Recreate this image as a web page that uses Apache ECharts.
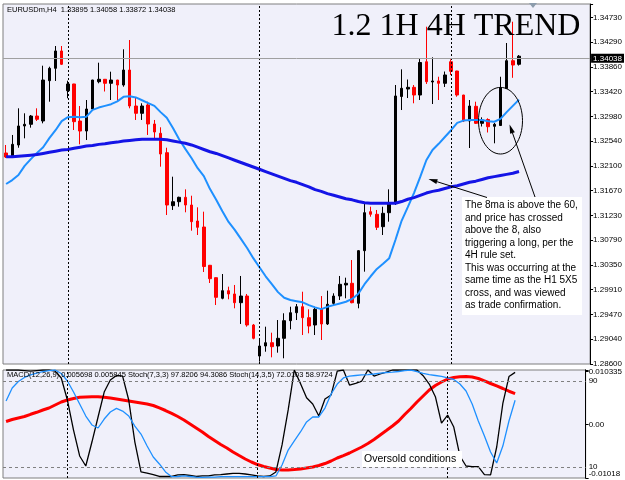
<!DOCTYPE html>
<html>
<head>
<meta charset="utf-8">
<title>1.2 1H 4H TREND</title>
<script src="https://cdn.jsdelivr.net/npm/echarts@6.0.0/dist/echarts.min.js"></script>
<style>
  html, body { margin: 0; padding: 0; background: #fff; }
  #chart { width: 625px; height: 480px; }
</style>
</head>
<body>
<div id="chart"></div>
<script>
// EURUSDm H4 bars (oldest first)
var opens = [1.32328, 1.32262, 1.32469, 1.32805, 1.32835, 1.32981, 1.32893, 1.33605, 1.33824, 1.34130,
    1.33428, 1.33547, 1.32893, 1.32716, 1.33105, 1.33587, 1.33630, 1.33559, 1.33617, 1.33529,
    1.33794, 1.33158, 1.33029, 1.33176, 1.32840, 1.32676, 1.32333, 1.31397, 1.31467, 1.31545,
    1.31409, 1.31126, 1.31020, 1.30344, 1.30125, 1.29761, 1.29895, 1.29837, 1.29683, 1.29801,
    1.29289, 1.28741, 1.28918, 1.28976, 1.28918, 1.29054, 1.29365, 1.29506, 1.29612, 1.29418,
    1.29289, 1.29566, 1.29307, 1.29672, 1.29801, 1.29996, 1.30026, 1.29672, 1.30602, 1.31291,
    1.31245, 1.31026, 1.31273, 1.31439, 1.33326, 1.33458, 1.33488, 1.33352, 1.33940, 1.33582,
    1.33600, 1.33559, 1.33940, 1.33776, 1.33352, 1.32893, 1.33153, 1.32852, 1.32919, 1.32799,
    1.32813, 1.33467, 1.33958, 1.33895];
var closes = [1.32257, 1.32481, 1.32805, 1.32835, 1.32981, 1.32923, 1.33617, 1.33824, 1.34130, 1.33895,
    1.33547, 1.32881, 1.32716, 1.33105, 1.33617, 1.33630, 1.33559, 1.33617, 1.33529, 1.33794,
    1.33158, 1.33029, 1.33158, 1.32840, 1.32699, 1.32310, 1.31409, 1.31467, 1.31545, 1.31409,
    1.31114, 1.31015, 1.30322, 1.30107, 1.29778, 1.29895, 1.29837, 1.29683, 1.29801, 1.29289,
    1.29054, 1.28918, 1.28976, 1.28906, 1.29054, 1.29365, 1.29506, 1.29612, 1.29418, 1.29271,
    1.29566, 1.29307, 1.29655, 1.29801, 1.30008, 1.30026, 1.29683, 1.30602, 1.31273, 1.31245,
    1.31015, 1.31262, 1.31450, 1.33335, 1.33471, 1.33488, 1.33352, 1.33926, 1.33587, 1.33600,
    1.33559, 1.33706, 1.33771, 1.33352, 1.32893, 1.33158, 1.32852, 1.32911, 1.32792, 1.32835,
    1.33476, 1.33958, 1.33882, 1.34038];
var lows = [1.32239, 1.32252, 1.32421, 1.32587, 1.32775, 1.32893, 1.32852, 1.33234, 1.33600, 1.33882,
    1.33294, 1.32734, 1.32481, 1.32557, 1.33087, 1.33559, 1.33414, 1.33264, 1.33234, 1.33499,
    1.33117, 1.32911, 1.32911, 1.32646, 1.32587, 1.32086, 1.31232, 1.31321, 1.31379, 1.31280,
    1.30955, 1.30879, 1.30225, 1.30031, 1.29642, 1.29743, 1.29743, 1.29584, 1.29307, 1.29259,
    1.29036, 1.28641, 1.28817, 1.28718, 1.28800, 1.28701, 1.29213, 1.29377, 1.29112, 1.29142,
    1.29112, 1.29024, 1.29289, 1.29642, 1.29731, 1.29761, 1.29672, 1.29584, 1.30231, 1.31202,
    1.30967, 1.30879, 1.31114, 1.31409, 1.33087, 1.33299, 1.33206, 1.33264, 1.33547, 1.33193,
    1.33264, 1.33494, 1.33706, 1.33322, 1.32875, 1.32416, 1.32840, 1.32796, 1.32690, 1.32499,
    1.32805, 1.33458, 1.33656, 1.33872];
var highs = [1.32469, 1.32646, 1.33117, 1.33029, 1.32999, 1.33117, 1.33870, 1.33852, 1.34218, 1.34218,
    1.33605, 1.33550, 1.33158, 1.33264, 1.33620, 1.33923, 1.33635, 1.33764, 1.33620, 1.34160,
    1.34324, 1.33312, 1.33206, 1.33234, 1.32911, 1.32782, 1.32421, 1.31909, 1.31556, 1.31686,
    1.31573, 1.31368, 1.31291, 1.30350, 1.30130, 1.30190, 1.29966, 1.29996, 1.30155, 1.29837,
    1.29307, 1.29054, 1.29259, 1.29153, 1.29377, 1.29496, 1.29612, 1.29660, 1.29877, 1.29566,
    1.29612, 1.29801, 1.29895, 1.29849, 1.30155, 1.30125, 1.30437, 1.30614, 1.31439, 1.31379,
    1.31321, 1.31379, 1.31686, 1.33529, 1.33806, 1.33626, 1.33529, 1.34001, 1.34559, 1.34018,
    1.33675, 1.33767, 1.33983, 1.33780, 1.33355, 1.33264, 1.33234, 1.32958, 1.32941, 1.32858,
    1.33675, 1.34271, 1.34647, 1.34058];

// 8 period MA (light blue) and 60 period MA (dark blue)
var fastMa = [1.3178, 1.3185, 1.3194, 1.3210, 1.3222, 1.3233, 1.3243, 1.3259, 1.3273, 1.3289,
    1.3296, 1.3297, 1.3296, 1.3297, 1.3309, 1.3313, 1.3316, 1.3319, 1.3324, 1.3332,
    1.3333, 1.3331, 1.3326, 1.3321, 1.3316, 1.3305, 1.3295, 1.3277, 1.3257, 1.3240,
    1.3224, 1.3206, 1.3192, 1.3169, 1.3150, 1.3130, 1.3111, 1.3097, 1.3081, 1.3065,
    1.3047, 1.3031, 1.3015, 1.3001, 1.2987, 1.2977, 1.2973, 1.2971, 1.2969, 1.2964,
    1.2960, 1.2957, 1.2961, 1.2964, 1.2967, 1.2970, 1.2975, 1.2984, 1.3001, 1.3015,
    1.3028, 1.3037, 1.3047, 1.3079, 1.3113, 1.3137, 1.3162, 1.3190, 1.3220, 1.3238,
    1.3249, 1.3261, 1.3273, 1.3286, 1.3290, 1.3291, 1.3291, 1.3291, 1.3289, 1.3288,
    1.3293, 1.3305, 1.3316, 1.3327];
var slowMa = [1.3226, 1.3226, 1.3227, 1.3228, 1.3229, 1.3230, 1.3232, 1.3234, 1.3236, 1.3238,
    1.3239, 1.3241, 1.3243, 1.3245, 1.3246, 1.3248, 1.3249, 1.3251, 1.3252, 1.3254,
    1.3255, 1.3256, 1.3257, 1.3257, 1.3257, 1.3257, 1.3256, 1.3254, 1.3252, 1.3250,
    1.3247, 1.3243, 1.3239, 1.3235, 1.3232, 1.3228, 1.3224, 1.3220, 1.3216, 1.3212,
    1.3208, 1.3204, 1.3200, 1.3196, 1.3192, 1.3188, 1.3184, 1.3181, 1.3177, 1.3173,
    1.3168, 1.3165, 1.3161, 1.3158, 1.3155, 1.3152, 1.3150, 1.3147, 1.3145, 1.3144,
    1.3144, 1.3144, 1.3144, 1.3144, 1.3147, 1.3151, 1.3154, 1.3158, 1.3162, 1.3165,
    1.3167, 1.3170, 1.3173, 1.3175, 1.3178, 1.3181, 1.3183, 1.3186, 1.3189, 1.3191,
    1.3193, 1.3195, 1.3197, 1.3200];

// indicator window
var macdLine = [0.00055, 0.00093, 0.00122, 0.00150, 0.00192, 0.00230, 0.00274, 0.00312, 0.00369, 0.00426,
    0.00464, 0.00492, 0.00515, 0.00521, 0.00526, 0.00526, 0.00515, 0.00502, 0.00483, 0.00464,
    0.00445, 0.00426, 0.00407, 0.00388, 0.00359, 0.00312, 0.00264, 0.00211, 0.00150, 0.00084,
    0.00008, -0.00068, -0.00144, -0.00230, -0.00306, -0.00382, -0.00448, -0.00524, -0.00591, -0.00657,
    -0.00714, -0.00762, -0.00800, -0.00828, -0.00857, -0.00866, -0.00866, -0.00857, -0.00847, -0.00828,
    -0.00809, -0.00781, -0.00743, -0.00695, -0.00638, -0.00591, -0.00543, -0.00486, -0.00429, -0.00363,
    -0.00287, -0.00201, -0.00116, -0.00030, 0.00065, 0.00188, 0.00302, 0.00426, 0.00540, 0.00654,
    0.00739, 0.00806, 0.00863, 0.00891, 0.00906, 0.00910, 0.00900, 0.00872, 0.00825, 0.00777,
    0.00730, 0.00682, 0.00630, 0.00585];
var stochFast = [100, 100, 100, 99.5, 99, 99.5, 100, 100, 99, 92.6,
    72.2, 44.4, 20.4, 11.1, 33.3, 56.5, 79.6, 90.7, 94.9, 94.4,
    72.2, 33.3, 5.6, 4.6, 3.2, 1.4, 1.4, 1.4, 2.8, 3.2,
    2.3, 1.4, 1.9, 1.9, 2.8, 3.2, 3.7, 4.2, 4.2, 3.7,
    2.8, 1.9, 1.4, 1.9, 5.6, 30.6, 63, 100, 87.6, 74.3,
    68.5, 57.4, 73.1, 76.9, 99, 100, 86.1, 87.7, 89.8, 100,
    94.4, 96.3, 98.1, 100, 100, 100, 100, 100, 94.7, 87,
    75.3, 50.9, 58.3, 47.2, 20.4, 11.1, 10.5, 10.5, 3.2, 2.8,
    28.7, 69, 93.9, 97.82];
var stochSlow = [71.3, 83.3, 89.4, 93.1, 95.4, 97.2, 98.4, 99.5, 100, 96.8,
    89.8, 79.6, 68.5, 57.4, 49.1, 46.3, 54.6, 61.1, 64.5, 62,
    57.4, 48.1, 40.7, 29.6, 19.4, 13, 5.6, 1.2, 1.4, 1.9,
    1.4, 0.9, 0.6, 0.9, 0.9, 1.2, 1.2, 1.2, 1.2, 1.2,
    1.2, 1.2, 1.2, 1.2, 1.9, 12, 25.9, 34.3, 42.6, 51.9,
    56.5, 56.5, 64.8, 77.8, 87, 92.6, 94.4, 94.9, 95.4, 95.8,
    96.3, 97.2, 97.7, 98.1, 98.6, 99.5, 100, 98.6, 96.8, 95.8,
    94.9, 94, 92.6, 91.2, 87, 80.6, 68.5, 52.8, 38.9, 24.1,
    13.9, 29.6, 52.8, 72.01];

var priceTicks = ['1.28600', '1.29040', '1.29470', '1.29910', '1.30350', '1.30790', '1.31230', '1.31670',
    '1.32100', '1.32540', '1.32980', '1.33420', '1.33860', '1.34290', '1.34730'];
var separatorBars = [10, 41, 72];
var stochLevels = [90, 10];
var currentPrice = 1.34038;

// 95 bar slots, the last ones are the empty chart shift
var categories = [];
for (var i = 0; i < 95; i++) {
    categories.push(String(i));
}

var candles = opens.map(function (o, i) {
    return [o, closes[i], lows[i], highs[i]];
});

var priceMin = 1.286;
var priceStep = priceMin / 294;
var labelFont = 'Liberation Sans';

function catAxis(grid) {
    return {
        type: 'category',
        gridIndex: grid,
        data: categories,
        boundaryGap: true,
        axisLine: { show: false },
        axisTick: { show: false },
        axisLabel: { show: false },
        splitLine: { show: false }
    };
}

function arrow(x1, y1, x2, y2) {
    var dx = x2 - x1, dy = y2 - y1;
    var len = Math.sqrt(dx * dx + dy * dy);
    var ux = dx / len, uy = dy / len;
    var bx = x2 - ux * 9, by = y2 - uy * 9;
    return [
        {
            type: 'line', z: 100,
            shape: { x1: x1, y1: y1, x2: bx, y2: by },
            style: { stroke: '#000', lineWidth: 1 }
        },
        {
            type: 'polygon', z: 100,
            shape: { points: [[x2, y2], [bx - uy * 2.5, by + ux * 2.5], [bx + uy * 2.5, by - ux * 2.5]] },
            style: { fill: '#000' }
        }
    ];
}

var separatorLines = separatorBars.map(function (b) {
    return { xAxis: b };
});
var dotted = { color: '#000', width: 1, type: [2, 2] };

var chart = echarts.init(document.getElementById('chart'));
var options = {
    animation: false,
    backgroundColor: '#fff',
    grid: [
        { left: 3, right: 33, top: 4, height: 360, show: true, backgroundColor: '#f0f0fa', borderColor: '#7f7f7f', borderWidth: 1 },
        { left: 3, right: 33, top: 370, height: 108, show: true, backgroundColor: '#f0f0fa', borderColor: '#7f7f7f', borderWidth: 1 }
    ],
    xAxis: [catAxis(0), catAxis(1)],
    yAxis: [
        {
            type: 'value',
            gridIndex: 0,
            position: 'right',
            min: priceMin,
            max: 1.3496,
            interval: priceStep,
            splitLine: { show: false },
            axisLine: { show: true, lineStyle: { color: '#000' } },
            axisTick: { show: true, length: 3, lineStyle: { color: '#000' } },
            axisLabel: {
                margin: 3,
                color: '#000',
                fontSize: 8,
                fontFamily: labelFont,
                formatter: function (value) {
                    var k = Math.round((value - priceMin) / priceStep);
                    if (Math.abs(value - (priceMin + k * priceStep)) > priceStep / 4) {
                        return '';
                    }
                    return priceTicks[k] || '';
                }
            }
        },
        {
            // stochastic scale
            type: 'value',
            gridIndex: 1,
            position: 'right',
            min: 0,
            max: 100,
            interval: 10,
            splitLine: { show: false },
            axisLine: { show: true, lineStyle: { color: '#000' } },
            axisTick: { show: false },
            axisLabel: {
                margin: 3,
                color: '#000',
                fontSize: 8,
                fontFamily: labelFont,
                formatter: function (value) {
                    return stochLevels.indexOf(value) >= 0 ? String(value) : '';
                }
            }
        },
        {
            // MACD scale
            type: 'value',
            gridIndex: 1,
            position: 'right',
            min: -0.01018,
            max: 0.010335,
            interval: 0.01018,
            splitLine: { show: false },
            axisLine: { show: true, lineStyle: { color: '#000' } },
            axisTick: { show: true, length: 3, lineStyle: { color: '#000' } },
            axisLabel: {
                margin: 3,
                color: '#000',
                fontSize: 8,
                fontFamily: labelFont,
                formatter: function (value) {
                    if (Math.abs(value) < 1e-9) {
                        return '0.00';
                    }
                    if (value < 0) {
                        return '{low|-0.01018}';
                    }
                    if (value > 0.0103) {
                        return '{high|0.010335}';
                    }
                    return '';
                },
                rich: {
                    low: { fontSize: 8, fontFamily: labelFont, color: '#000', padding: [0, 0, 8, 0] },
                    high: { fontSize: 8, fontFamily: labelFont, color: '#000', padding: [3, 0, 0, 0] }
                }
            }
        }
    ],
    series: [
        {
            name: 'EURUSDm,H4',
            type: 'candlestick',
            xAxisIndex: 0,
            yAxisIndex: 0,
            barWidth: 3,
            silent: true,
            data: candles,
            itemStyle: {
                color: '#000',
                color0: '#ff0000',
                borderColor: '#000',
                borderColor0: '#ff0000',
                borderWidth: 1
            },
            markLine: {
                silent: true,
                symbol: ['none', 'none'],
                label: { show: false },
                lineStyle: dotted,
                data: separatorLines.concat([
                    {
                        yAxis: currentPrice,
                        lineStyle: { color: '#a0a0a0', width: 1, type: 'solid' },
                        label: {
                            show: true,
                            position: 'end',
                            distance: 1,
                            formatter: currentPrice.toFixed(5),
                            color: '#fff',
                            backgroundColor: '#000',
                            padding: [1, 2, 0, 2],
                            fontSize: 8,
                            fontFamily: labelFont
                        }
                    }
                ])
            }
        },
        {
            name: 'MA 8',
            type: 'line',
            xAxisIndex: 0,
            yAxisIndex: 0,
            symbol: 'none',
            silent: true,
            data: fastMa,
            lineStyle: { color: '#1e90ff', width: 2 }
        },
        {
            name: 'MA 60',
            type: 'line',
            xAxisIndex: 0,
            yAxisIndex: 0,
            symbol: 'none',
            silent: true,
            data: slowMa,
            lineStyle: { color: '#1414e6', width: 3 }
        },
        {
            name: 'MACD(12,26,9)',
            type: 'line',
            xAxisIndex: 1,
            yAxisIndex: 2,
            symbol: 'none',
            silent: true,
            data: macdLine,
            lineStyle: { color: '#ff0000', width: 3 }
        },
        {
            name: 'Stoch(7,3,3)',
            type: 'line',
            xAxisIndex: 1,
            yAxisIndex: 1,
            symbol: 'none',
            silent: true,
            data: stochFast,
            lineStyle: { color: '#000', width: 1.3 },
            markLine: {
                silent: true,
                symbol: ['none', 'none'],
                label: { show: false },
                lineStyle: dotted,
                data: separatorLines.concat(stochLevels.map(function (v) {
                    return { yAxis: v, lineStyle: { color: '#808080', width: 1, type: [3, 3] } };
                }))
            }
        },
        {
            name: 'Stoch(14,3,5)',
            type: 'line',
            xAxisIndex: 1,
            yAxisIndex: 1,
            symbol: 'none',
            silent: true,
            data: stochSlow,
            lineStyle: { color: '#1e90ff', width: 1.3 }
        }
    ],
    graphic: [
        {
            type: 'text', z: 100,
            style: {
                text: 'EURUSDm,H4  1.33895 1.34058 1.33872 1.34038',
                x: 7, y: 10, verticalAlign: 'middle',
                fill: '#000', fontSize: 7.5, fontFamily: labelFont
            }
        },
        {
            type: 'text', z: 100,
            style: {
                text: 'MACD(12,26,9) 0.005698 0.005845 Stoch(7,3,3) 97.8206 94.3086 Stoch(14,3,5) 72.0103 58.9724',
                x: 7, y: 375, verticalAlign: 'middle',
                fill: '#000', fontSize: 7.5, fontFamily: labelFont
            }
        },
        {
            type: 'text', z: 100,
            style: {
                text: '1.2 1H 4H TREND',
                x: 456, y: 27, align: 'center', verticalAlign: 'middle',
                fill: '#000', fontSize: 32, fontFamily: 'Liberation Serif'
            }
        },
        {
            type: 'rect', z: 100,
            shape: { x: 462, y: 197, width: 120, height: 118 },
            style: { fill: '#fff' }
        },
        {
            type: 'text', z: 101,
            style: {
                text: 'The 8ma is above the 60,\nand price has crossed\nabove the 8, also\ntriggering a long, per the\n4H rule set.\nThis was occurring at the\nsame time as the H1 5X5\ncross, and was viewed\nas trade confirmation.',
                x: 465, y: 199, lineHeight: 12.5,
                fill: '#000', fontSize: 10, fontFamily: labelFont
            }
        },
        {
            type: 'rect', z: 100,
            shape: { x: 362, y: 451, width: 100, height: 16 },
            style: { fill: '#fff' }
        },
        {
            type: 'text', z: 101,
            style: {
                text: 'Oversold conditions',
                x: 364, y: 459, verticalAlign: 'middle',
                fill: '#000', fontSize: 10.5, fontFamily: labelFont
            }
        },
        {
            type: 'ellipse', z: 100,
            shape: { cx: 500.5, cy: 120.7, rx: 22, ry: 33.3 },
            style: { fill: 'none', stroke: '#000', lineWidth: 1 }
        },
        {
            type: 'polygon', z: 100,
            shape: { points: [[529, 3], [537, 3], [533, 8]] },
            style: { fill: '#8c9cac' }
        }
    ].concat(arrow(535, 197, 509.5, 124.5), arrow(487, 197.5, 428.5, 179))
};
chart.setOption(options);
</script>
</body>
</html>
